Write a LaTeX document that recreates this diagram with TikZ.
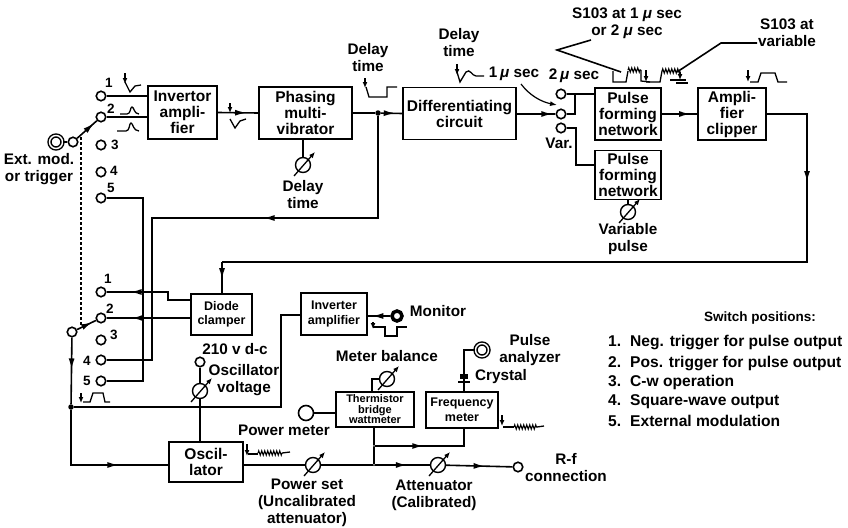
\documentclass[tikz,border=0pt]{standalone}
\usepackage{fontspec}
\setmainfont{Liberation Sans}
\usepackage{tikz}
\usetikzlibrary{arrows.meta,positioning,calc,decorations.markings,decorations.pathmorphing}
\tikzset{
  block/.style={draw,line width=1.6pt,align=center,inner sep=0pt,font=\fontsize{15.5}{16}\selectfont\bfseries},
  lbl/.style={align=center,inner sep=0pt,font=\fontsize{15.3}{17}\selectfont\bfseries},
  numlbl/.style={inner sep=0pt,font=\fontsize{13.5}{14}\selectfont\bfseries},
  term/.style={circle,draw,line width=1.6pt,inner sep=0pt,minimum size=9.5pt,fill=white},
  jack/.style={circle,draw,double,double distance=1.4pt,line width=1.5pt,inner sep=0pt,minimum size=13pt,fill=white},
  pot/.style={circle,draw,line width=1.4pt,inner sep=0pt,minimum size=15pt,fill=white},
  dot/.style={circle,fill,inner sep=0pt,minimum size=5.5pt},
  link/.style={line width=1.6pt},
  flow/.style={link,postaction={decorate},decoration={markings,mark=at position #1 with {\arrow{Latex[length=11pt,width=6pt]}}}},
  wave/.style={line width=1.3pt},
  trig/.style={line width=1.3pt,-{Latex[length=6pt,width=5pt]}},
  squig/.style={line width=1.1pt,decorate,decoration={zigzag,segment length=3pt,amplitude=2.2pt}},
}
\newcommand{\varpot}[2]{%
  \node[pot] (#1) at (#2) {};
  \draw[line width=1.3pt,-{Latex[length=6pt,width=5pt]}] ($(#1)+(-9,11)$)--($(#1)+(12,-13)$);
}
\begin{document}
\begin{tikzpicture}[x=1pt,y=-1pt]
\useasboundingbox (0,0) rectangle (848,527);
% blocks, top row
\node[block,minimum width=69pt,minimum height=53pt] (invertor) at (182.5,112.5) {Invertor\\ampli-\\fier};
\node[block,minimum width=93pt,minimum height=52pt] (phasing) at (305.5,113) {Phasing\\multi-\\vibrator};
\node[block,minimum width=113pt,minimum height=52pt] (diff) at (459.5,113.5) {Differentiating\\circuit};
\node[block,minimum width=66pt,minimum height=52pt] (pulsea) at (628,114) {Pulse\\forming\\network};
\node[block,minimum width=66pt,minimum height=49pt] (pulseb) at (628,175) {Pulse\\forming\\network};
\node[block,minimum width=68pt,minimum height=52pt] (clipper) at (732,114) {Ampli-\\fier\\clipper};
% blocks, lower part
\node[block,minimum width=61pt,minimum height=41pt,font=\fontsize{12.5}{14}\selectfont\bfseries] (diode) at (221.5,314.5) {Diode\\clamper};
\node[block,minimum width=66pt,minimum height=42pt,font=\fontsize{12.5}{14.5}\selectfont\bfseries] (inverter) at (334,314) {Inverter\\amplifier};
\node[block,minimum width=78pt,minimum height=35pt,font=\fontsize{11}{10.5}\selectfont\bfseries] (thermistor) at (375,409.5) {Thermistor\\bridge\\wattmeter};
\node[block,minimum width=72pt,minimum height=36pt,font=\fontsize{12.5}{15}\selectfont\bfseries] (freq) at (462,410) {Frequency\\meter};
\node[block,minimum width=74pt,minimum height=40pt] (osc) at (206,462) {Oscil-\\lator};

% switch terminals
\foreach \n/\y in {1/96,2/117,3/145,4/172,5/198}{
  \node[term] (up\n) at (101,\y) {};
}
\foreach \n/\y in {1/292,2/318,3/340,4/360,5/381}{
  \node[term] (lo\n) at (101,\y) {};
}
\node[term] (poleup) at (73,142) {};
\node[term] (polelo) at (72,332) {};
\node[jack] (extjack) at (56,142) {};
\node[term] (ta) at (561,94) {};
\node[term] (tb) at (561,114) {};
\node[term] (tc) at (561,128) {};
\node[term] (vterm) at (200,362) {};
\node[term,minimum size=15pt] (pmterm) at (306,413) {};
\node[term] (rfterm) at (518,467) {};
\node[circle,draw,line width=3.5pt,inner sep=0pt,minimum size=10pt] (monjack) at (397,316) {};
\node[jack] (pajack) at (482,350) {};
\node[dot] (jtop) at (378,113) {};
\node[dot] (jlow) at (71,407) {};
\node[dot,minimum size=2pt] (jmeter) at (374,446) {};
\node[dot,minimum size=2pt] (jrf) at (374,465) {};
\coordinate (crystal) at (464,377);
\coordinate (retbend) at (222,262);
\coordinate (dioa) at (191,300);
\coordinate (oscin) at (169,465);
\coordinate (invin) at (301,315);

% pots
\varpot{potdelay}{303,165}
\varpot{potvar}{628,212}
\varpot{potvolt}{200,391}
\varpot{potbal}{387,379}
\varpot{potset}{313,465}
\varpot{potatt}{438,465}

% connectors, top row
\draw[link] (extjack)--(poleup);
\draw[flow=0.85] (poleup)--(up2);
\draw[link] (up1)--(up1-|invertor.west);
\draw[link] (up2)--(up2-|invertor.west);
\draw[flow=0.7] (invertor.east)--(phasing.west);
\draw[link] (phasing.east)--(jtop);
\draw[flow=0.65] (jtop)--(diff.west);
\draw[flow=0.92] (diff.east|-tb)--(tb);
\draw[link] (phasing.south-|potdelay)--(potdelay);
\draw[link] (ta)--(ta-|pulsea.west);
\draw[link] (tb)-|(575,95);
\draw[link] (tc)-|(576,165)--(576,165-|pulseb.west);
\draw[flow=0.8] (pulsea.east)--(clipper.west);
\draw[link] (pulseb.south-|potvar)--(potvar);

% long returns
\draw[flow=0.14] (clipper.east)-|(807,262)--(retbend);
\draw[flow=0.55] (retbend)--(diode.north-|retbend);
\draw[flow=0.42] (jtop)|-(152,218)--(152,360)--(lo4);
\draw[link] (up5)-|(143,381)--(lo5);
\draw[densely dashed,line width=1.2pt] (81,137)--(81,326);

% lower switch and clamper
\draw[flow=0.74] (dioa)-|(168,292)--(lo1);
\draw[flow=0.7] (diode.west|-lo2)--(lo2);
\draw[flow=0.8] (polelo)--(lo2);
\draw[flow=0.48] (polelo)--(jlow);
\draw[flow=0.67] (jlow)|-(oscin);
\draw[link] (jlow)-|(281,315)--(invin);
\draw[flow=0.8] (monjack)--(inverter.east|-monjack);

% oscillator line
\draw[link] (vterm)--(potvolt);
\draw[link] (potvolt)--(potvolt|-osc.north);
\draw[link] (osc.east|-potset)--(potset);
\draw[link] (potset)--(jrf);
\draw[flow=0.58] (jrf)--(potatt);
\draw[flow=0.58] (potatt)--(rfterm);
\draw[link] (jrf)--(jmeter)--(jmeter|-thermistor.south);
\draw[flow=0.45] (jmeter)-|(464,428);
\draw[link] (pmterm)--(pmterm-|thermistor.west);
\draw[link] (372,392)|-(potbal);
\draw[link] (464,392)--(crystal)--(464,350)--(pajack);
\fill ($(crystal)+(-4,-3)$) rectangle ($(crystal)+(4,2)$);
\draw[line width=1.4pt] ($(crystal)+(-6,5)$)--($(crystal)+(6,5)$);

% pulse shapes
\draw[trig] (125,73)--(125,84);
\draw[wave] (125,82)--(130,92)--(135,86)--(141,85);
\draw[wave] (120,114)--(127,114) .. controls (131,114) and (130,107) .. (132,107) .. controls (134,107) and (134,114) .. (139,114);
\draw[wave] (117,131)--(126,131) .. controls (130,131) and (129,123) .. (131,123) .. controls (133,123) and (133,131) .. (139,131);
\draw[trig] (230,103)--(230,113);
\draw[wave] (230,119)--(235,128)--(240,121)--(246,119);
\draw[trig] (365,78)--(365,88);
\draw[wave] (366,87)--(369,97)--(387,97)--(387,87)--(397,87);
\draw[trig] (457,64)--(457,75);
\draw[wave] (457,72)--(460,82)--(466,72) .. controls (470,68) and (472,76) .. (476,76)--(484,76);
\draw[wave] (613,71)--(613,82)--(626,82)--(628,71);
\draw[squig] (628,70)--(641,70);
\draw[wave] (641,70)--(641,81)--(650,82);
\draw[trig] (646,70)--(646,82);
\draw[wave] (646,82)--(660,82)--(662,71);
\draw[squig] (662,71)--(680,71);
\draw[trig] (680,72)--(680,80);
\draw[line width=2pt] (670,80)--(686,80) (676,83)--(688,83);
\draw[trig] (748,70)--(748,82);
\draw[wave] (750,82)--(758,82)--(761,73)--(775,73)--(778,82)--(787,82);
\draw[trig] (81,393)--(81,403);
\draw[wave] (83,402)--(90,402)--(93,393)--(103,393)--(105,402)--(110,402);
\draw[trig] (373,322)--(373,329);
\draw[wave] (373,327)--(385,327)--(385,336)--(397,336)--(397,327)--(407,327);
\draw[trig] (247,444)--(247,456);
\draw[wave] (248,454)--(258,454);
\draw[squig] (258,453)--(282,453);
\draw[wave] (282,453)--(290,452);
\draw[trig] (502,415)--(502,426);
\draw[wave] (503,427)--(514,427);
\draw[squig] (514,427)--(537,427);
\draw[wave] (537,427)--(544,426);

% leaders
\draw[link] (591,40)--(557,50)--(621,72);
\draw[link] (757,43)--(721,43)--(677,72);
\draw[line width=1.2pt,-{Latex[length=7pt,width=5pt]}] (521,84) .. controls (530,96) and (542,102) .. (557,105);

% labels
\node[lbl] (extlbl) at (39,169) {Ext. mod.\\or trigger};
\node[lbl] (dlyalbl) at (368,58) {Delay\\time};
\node[lbl] (dlyblbl) at (303,195) {Delay\\time};
\node[lbl] (dlyclbl) at (459,43) {Delay\\time};
\node[lbl] (usalbl) at (514,74) {1\,{\itshape μ} sec};
\node[lbl] (usblbl) at (574,76) {2\,{\itshape μ} sec};
\node[lbl] (varlbl) at (559,143) {Var.};
\node[lbl] (saalbl) at (627,23) {S103 at 1 {\itshape μ} sec\\or 2 {\itshape μ} sec};
\node[lbl] (sablbl) at (787,33) {S103 at\\variable};
\node[lbl] (vplbl) at (628,239) {Variable\\pulse};
\node[lbl] (monlbl) at (438,311) {Monitor};
\node[lbl] (vdclbl) at (235,349) {210 v d-c};
\node[lbl] (osclbl) at (244,380) {Oscillator\\voltage};
\node[lbl] (pmlbl) at (284,430) {Power meter};
\node[lbl] (ballbl) at (387,356) {Meter balance};
\node[lbl] (palbl) at (530,350) {Pulse\\analyzer};
\node[lbl] (xtallbl) at (501,377) {Crystal};
\node[lbl] (rflbl) at (566,468) {R-f\\connection};
\node[lbl] (setlbl) at (307,503) {Power set\\(Uncalibrated\\attenuator)};
\node[lbl] (attlbl) at (434,495) {Attenuator\\(Calibrated)};
\foreach \n/\x/\y in {1/109/83,2/111/109,3/115/145,4/114/171,5/111/188}{
  \node[numlbl] (nu\n) at (\x,\y) {\n};
}
\foreach \n/\x/\y in {1/108/279,2/110/309,3/114/335,4/87/361,5/87/381}{
  \node[numlbl] (nl\n) at (\x,\y) {\n};
}

% switch list
\node[lbl,font=\fontsize{13.5}{16}\selectfont\bfseries] (swhead) at (760,318) {Switch positions:};
\foreach \n/\y/\t in {1/342/Neg. trigger for pulse output,2/363/Pos. trigger for pulse output,3/382/C-w operation,4/402/Square-wave output,5/421/External modulation}{
  \node[lbl,anchor=west,font=\fontsize{15.6}{16}\selectfont\bfseries] (sw\n) at (608,\y) {\makebox[22pt][l]{\n.}\t};
}
\end{tikzpicture}
\end{document}
